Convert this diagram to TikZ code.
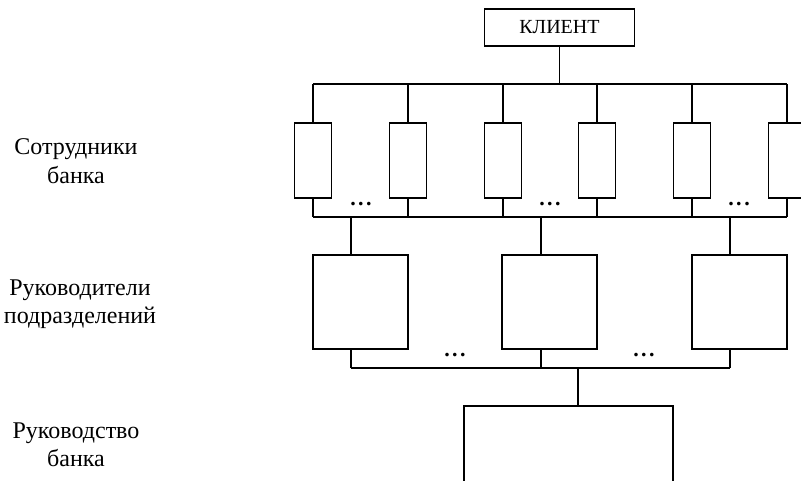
\documentclass[tikz,border=0pt]{standalone}
\usepackage{fontspec}
\setmainfont{Liberation Serif}
\begin{document}
\begin{tikzpicture}[x=1pt,y=-1pt,
  line width=1.2pt,
  box/.style={draw,line width=1.2pt,inner sep=0pt,outer sep=0pt},
  staff/.style={box,minimum width=37pt,minimum height=75pt},
  head/.style={box,minimum width=95pt,minimum height=94pt},
  label/.style={align=center,font=\fontsize{24}{28.5}\selectfont},
  dots/.style={font=\fontsize{22}{22}\selectfont\bfseries,inner sep=0pt}]
\useasboundingbox (0,0) rectangle (801,480);
\clip (0,0) rectangle (801,480);

% client
\node[box,minimum width=150pt,minimum height=37pt,font=\fontsize{20}{20}\selectfont] (client) at (559.5,27.5) {КЛИЕНТ};

% bank staff
\foreach \i/\x in {1/313,2/408,3/503,4/597,5/692,6/787}
  \node[staff] (s\i) at (\x,160.5) {};

% department heads
\node[head] (m1) at (360.5,302) {};
\node[head] (m2) at (549.5,302) {};
\node[head] (m3) at (739.5,302) {};

% bank management
\node[box,minimum width=209pt,minimum height=120pt,anchor=north west] (top) at (464,406) {};

% bus coordinates
\coordinate (topbus) at (559.5,84);
\coordinate (staffbus) at (351,217);
\coordinate (j1) at (351,217);
\coordinate (j2) at (541,217);
\coordinate (j3) at (730,217);
\coordinate (k1) at (351,368);
\coordinate (k2) at (541,368);
\coordinate (k3) at (730,368);
\coordinate (k0) at (578,368);

% client to staff
\draw (client.south) -- (topbus);
\draw (s1.north |- topbus) -- (s6.north |- topbus);
\foreach \i in {1,...,6}
  \draw (s\i.north) -- (s\i.north |- topbus);

% staff to heads
\draw (s1.south |- staffbus) -- (s6.south |- staffbus);
\foreach \i in {1,...,6}
  \draw (s\i.south) -- (s\i.south |- staffbus);
\foreach \i in {1,2,3}
  \draw (j\i) -- (j\i |- m\i.north);

% heads to management
\foreach \i in {1,2,3}
  \draw (j\i |- m\i.south) -- (k\i);
\draw (k1) -- (k3);
\draw (k0) -- (k0 |- top.north);

% ellipses
\foreach \n/\x/\y in {d1/361/204,d2/550/204,d3/739/204,d4/455/355,d5/644/355}
  \node[dots] (\n) at (\x,\y) {.\kern2.5pt.\kern2.5pt.};

% level captions
\node[label] (l1) at (76,161) {Сотрудники\\банка};
\node[label] (l2) at (80,304) {Руководители\\подразделений};
\node[label] (l3) at (76,445) {Руководство\\банка};
\end{tikzpicture}
\end{document}
